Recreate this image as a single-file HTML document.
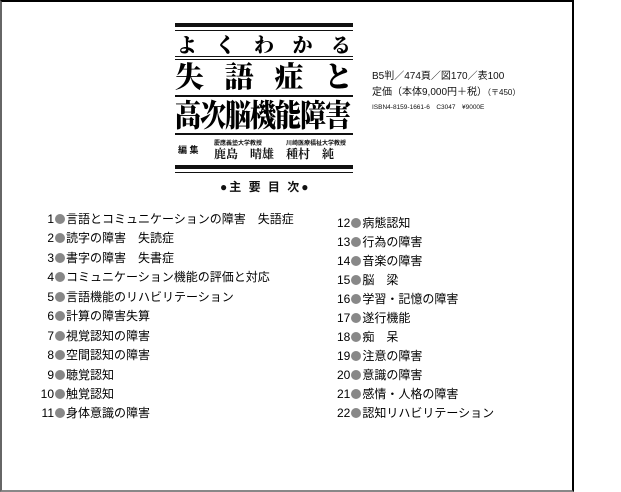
<!DOCTYPE html>
<html><head><meta charset="utf-8"><style>
*{margin:0;padding:0;box-sizing:border-box}
body{width:621px;height:492px;background:#fff;position:relative;overflow:hidden;font-family:"Liberation Sans","Noto Sans CJK JP",sans-serif;color:#111}
.frame{position:absolute;left:0;top:0;width:574px;height:492px;border-top:2px solid #000;border-left:2px solid #666;border-right:2px solid #000;border-bottom:2px solid #888}
.a{position:absolute;white-space:nowrap}
.r{position:absolute;left:175px;width:178px;background:#111}
.t{position:absolute;left:175px;width:178px;display:flex;justify-content:space-between;font-family:"Noto Serif CJK JP","Noto Serif CJK SC",serif;font-weight:900;color:#000;line-height:1}
.row{position:absolute;font-size:12px;line-height:14px;white-space:nowrap;color:#000}
.n{display:inline-block;text-align:right}
.b{display:inline-block;width:10px;height:10px;border-radius:50%;background:#888;vertical-align:-1px;margin:0 1px}
</style></head><body>
<div class="frame"></div>
<div class="r" style="top:23px;height:4px"></div>
<div class="r" style="top:30px;height:1px"></div>
<div class="t" style="top:34px;font-size:20px;padding:0 2px">よ<span>く</span><span>わ</span><span>か</span><span>る</span></div>
<div class="r" style="top:56px;height:1px"></div>
<div class="r" style="top:59px;height:1px"></div>
<div class="t" style="top:61px;font-size:29px">失<span>語</span><span>症</span><span>と</span></div>
<div class="r" style="top:95px;height:2px"></div>
<div class="t" style="top:99px;font-size:26px;letter-spacing:-1px;transform:scaleY(1.2);transform-origin:top">高次脳機能障害</div>
<div class="r" style="top:133px;height:2px"></div>
<div class="a" style="left:178px;top:143px;font-size:9px;font-weight:bold">編 集</div>
<div class="a" style="left:214px;top:138px;font-size:6px;font-weight:bold">慶應義塾大学教授</div>
<div class="a" style="left:214px;top:145px;font-size:12px;font-weight:bold;font-family:'Noto Serif CJK JP',serif">鹿島　晴雄</div>
<div class="a" style="left:286px;top:138px;font-size:6px;font-weight:bold">川崎医療福祉大学教授</div>
<div class="a" style="left:286px;top:145px;font-size:12px;font-weight:bold;font-family:'Noto Serif CJK JP',serif">種村　純</div>
<div class="r" style="top:165px;height:4px"></div>
<div class="r" style="top:172px;height:1px"></div>
<div class="a" style="left:220px;top:178px;font-size:12px;letter-spacing:2px;font-weight:bold">●主 要 目 次●</div>
<div class="a" style="left:372px;top:67px;font-size:10px">B5判／474頁／図170／表100</div>
<div class="a" style="left:372px;top:83px;font-size:10px">定価（本体9,000円＋税）<span style="font-size:8px">（〒450）</span></div>
<div class="a" style="left:372px;top:101px;font-size:6.5px">ISBN4-8159-1661-6　C3047　¥9000E</div>

<div class="row" style="left:30px;top:212px"><span class="n" style="width:24px">1</span><span class="b"></span>言語とコミュニケーションの障害　失語症</div>
<div class="row" style="left:30px;top:231px"><span class="n" style="width:24px">2</span><span class="b"></span>読字の障害　失読症</div>
<div class="row" style="left:30px;top:251px"><span class="n" style="width:24px">3</span><span class="b"></span>書字の障害　失書症</div>
<div class="row" style="left:30px;top:270px"><span class="n" style="width:24px">4</span><span class="b"></span>コミュニケーション機能の評価と対応</div>
<div class="row" style="left:30px;top:290px"><span class="n" style="width:24px">5</span><span class="b"></span>言語機能のリハビリテーション</div>
<div class="row" style="left:30px;top:309px"><span class="n" style="width:24px">6</span><span class="b"></span>計算の障害失算</div>
<div class="row" style="left:30px;top:329px"><span class="n" style="width:24px">7</span><span class="b"></span>視覚認知の障害</div>
<div class="row" style="left:30px;top:348px"><span class="n" style="width:24px">8</span><span class="b"></span>空間認知の障害</div>
<div class="row" style="left:30px;top:368px"><span class="n" style="width:24px">9</span><span class="b"></span>聴覚認知</div>
<div class="row" style="left:30px;top:387px"><span class="n" style="width:24px">10</span><span class="b"></span>触覚認知</div>
<div class="row" style="left:30px;top:406px"><span class="n" style="width:24px">11</span><span class="b"></span>身体意識の障害</div>

<div class="row" style="left:337px;top:216px">12<span class="b"></span>病態認知</div>
<div class="row" style="left:337px;top:235px">13<span class="b"></span>行為の障害</div>
<div class="row" style="left:337px;top:254px">14<span class="b"></span>音楽の障害</div>
<div class="row" style="left:337px;top:273px">15<span class="b"></span>脳　梁</div>
<div class="row" style="left:337px;top:292px">16<span class="b"></span>学習・記憶の障害</div>
<div class="row" style="left:337px;top:311px">17<span class="b"></span>遂行機能</div>
<div class="row" style="left:337px;top:330px">18<span class="b"></span>痴　呆</div>
<div class="row" style="left:337px;top:349px">19<span class="b"></span>注意の障害</div>
<div class="row" style="left:337px;top:368px">20<span class="b"></span>意識の障害</div>
<div class="row" style="left:337px;top:387px">21<span class="b"></span>感情・人格の障害</div>
<div class="row" style="left:337px;top:406px">22<span class="b"></span>認知リハビリテーション</div>
</body></html>
